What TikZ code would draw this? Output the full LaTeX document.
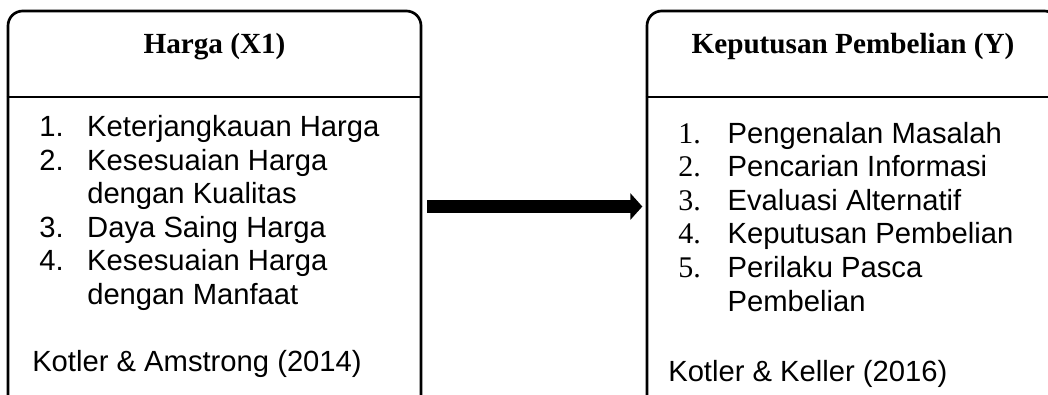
\documentclass[tikz,border=0pt]{standalone}
\usepackage{fontspec}
\setmainfont{Liberation Sans}
\newfontfamily\serifnum{Liberation Serif}
\usetikzlibrary{positioning,arrows.meta}
\newcommand{\itemfont}{\fontsize{21.9}{25.2}\selectfont}
\newcommand{\num}[1]{\makebox[36pt][l]{#1}}
\newcommand{\snum}[1]{\makebox[37pt][l]{\serifnum\fontsize{22.5}{25.2}\selectfont #1}}
\tikzstyle{box} = [draw, line width=2pt, rectangle, rounded corners=11pt, minimum height=328.5pt]
\tikzstyle{title} = [anchor=base, inner sep=0pt, font=\serifnum\bfseries\fontsize{21.9}{25.2}\selectfont]
\tikzstyle{list} = [anchor=base west, inner sep=0pt, align=left, font=\itemfont]
\tikzset{bigarrow/.style={line width=9.75pt, -{Triangle[width=19.5pt, length=9pt]}}}

\begin{document}
\begin{tikzpicture}[x=0.75pt, y=-0.75pt]
        \useasboundingbox (0,0) rectangle (1048,395);
        \clip (0,0) rectangle (1048,395);

        % boxes run on past the lower edge
        \node [box, minimum width=309.75pt] (harga) at (214.5,230) {};
        \node [box, minimum width=309pt] (keputusan) at (853,230) {};

        \draw [line width=2.2pt] (harga.west |- 0,97) -- (harga.east |- 0,97);
        \draw [line width=2.2pt] (keputusan.west |- 0,97) -- (keputusan.east |- 0,97);

        \node [title] (hargaT) at (214.5,54) {Harga (X1)};
        \node [title] (keputusanT) at (853,54) {Keputusan Pembelian (Y)};

        % base anchor sits on the last line
        \node [list] (hargaL) at (39,304.5) {\num{1.}Keterjangkauan Harga\\
            \num{2.}Kesesuaian Harga\\
            \num{}dengan Kualitas\\
            \num{3.}Daya Saing Harga\\
            \num{4.}Kesesuaian Harga\\
            \num{}dengan Manfaat};
        \node [list] (hargaS) at (32,371) {Kotler \& Amstrong (2014)};

        \node [list] (keputusanL) at (678,311) {\snum{1.}Pengenalan Masalah\\
            \snum{2.}Pencarian Informasi\\
            \snum{3.}Evaluasi Alternatif\\
            \snum{4.}Keputusan Pembelian\\
            \snum{5.}Perilaku Pasca\\
            \snum{}Pembelian};
        \node [list] (keputusanS) at (668,381) {Kotler \& Keller (2016)};

        \draw [bigarrow, shorten <=3.5pt, shorten >=2.5pt] ([yshift=17.6pt]harga.east) -- ([yshift=17.6pt]keputusan.west);
    \end{tikzpicture}
\end{document}
